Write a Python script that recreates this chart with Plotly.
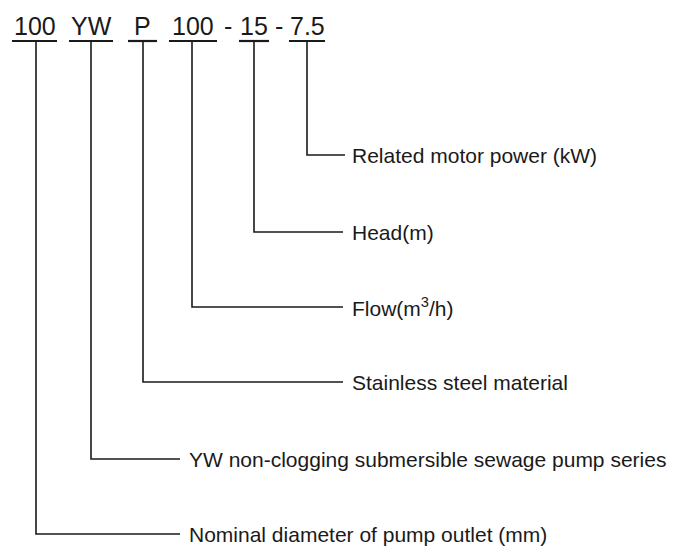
import plotly.graph_objects as go

# ---- content ----
code_parts = ["100", "YW", "P", "100", "15", "7.5"]
separators = ["-", "-"]
descriptions = [
    "Nominal diameter of pump outlet (mm)",
    "YW non-clogging submersible sewage pump series",
    "Stainless steel material",
    "Flow(m<sup>3</sup>/h)",
    "Head(m)",
    "Related motor power (kW)",
]

# ---- layout geometry (page pixel space of the 675x547 window) ----
W, H = 675, 547
BODY_MARGIN = 8  # default page margin around the plot div
underline_left = [12, 69, 128, 169, 239, 289]
underline_right = [57, 113, 157, 217, 269, 325]
stem_x = [36, 91, 143, 192, 254, 307]
branch_y = [534, 459, 382, 307, 232, 155]
branch_end = [180, 180, 343, 343, 343, 345]
label_x = [187, 187, 350, 350, 350, 350]
sep_x = [228, 279]
code_y = 26
underline_y = 41

fig = go.Figure()

# underlines
for l, r in zip(underline_left, underline_right):
    fig.add_trace(go.Scatter(x=[l, r], y=[underline_y, underline_y], mode="lines",
                             line=dict(color="#1a1a1a", width=2.2), hoverinfo="skip"))

# stems + branches
for sx, by, be in zip(stem_x, branch_y, branch_end):
    fig.add_trace(go.Scatter(x=[sx, sx, be], y=[underline_y, by, by], mode="lines",
                             line=dict(color="#1a1a1a", width=1.6), hoverinfo="skip"))

annotations = []
for part, l, r in zip(code_parts, underline_left, underline_right):
    annotations.append(dict(x=(l + r) / 2, y=code_y, text=part, showarrow=False,
                            xanchor="center", yanchor="middle",
                            font=dict(family="Liberation Sans, Arial", size=25, color="#1a1a1a")))
for s, x in zip(separators, sep_x):
    annotations.append(dict(x=x, y=code_y, text=s, showarrow=False,
                            xanchor="center", yanchor="middle",
                            font=dict(family="Liberation Sans, Arial", size=25, color="#1a1a1a")))
for d, lx, by in zip(descriptions, label_x, branch_y):
    annotations.append(dict(x=lx, y=by, text=d, showarrow=False,
                            xanchor="left", yanchor="middle",
                            font=dict(family="Liberation Sans, Arial", size=21, color="#1a1a1a")))

fig.update_layout(
    width=W - BODY_MARGIN, height=H - BODY_MARGIN,
    margin=dict(l=0, r=0, t=0, b=0),
    paper_bgcolor="white", plot_bgcolor="white",
    showlegend=False,
    xaxis=dict(range=[BODY_MARGIN, W], visible=False, fixedrange=True),
    yaxis=dict(range=[H, BODY_MARGIN], visible=False, fixedrange=True),
    annotations=annotations,
)

fig.write_html("out.html", config={"displayModeBar": False})
